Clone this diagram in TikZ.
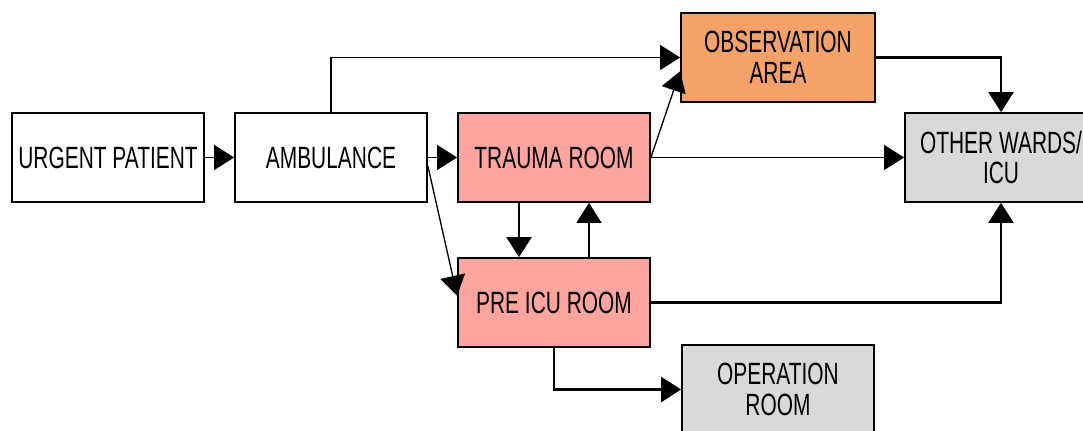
\documentclass[tikz,border=0pt]{standalone}
\usepackage{fontspec}
\setmainfont{Liberation Sans}[FakeStretch=0.68]
\usetikzlibrary{arrows.meta,positioning,calc}
\definecolor{roompink}{RGB}{252,164,158}
\definecolor{obsorange}{RGB}{244,161,106}
\definecolor{wardgray}{RGB}{217,217,217}

\begin{document}
\begin{tikzpicture}[
        font=\fontsize{17.5}{17.5}\selectfont,
        box/.style={rectangle, draw, line width=1pt, fill=white, minimum width=3.84cm, minimum height=1.78cm, inner sep=0pt, align=center},
        room/.style={box, fill=roompink},
        obsbox/.style={box, fill=obsorange, minimum width=3.88cm},
        ward/.style={box, fill=wardgray},
        flow/.style={-{Triangle[length=0.4cm,width=0.5cm]}, line width=0.75pt},
        heavy/.style={flow, line width=1.3pt}
    ]
        \fill[white] (0,0) rectangle (21.66,8.6);
        \clip (0,0) rectangle (21.66,8.6);

        \node[box] (urgent) at (2.16,5.45) {URGENT PATIENT};
        \node[box] (amb) at (6.62,5.45) {AMBULANCE};
        \node[room] (trauma) at (11.08,5.45) {TRAUMA ROOM};
        \node[room] (preicu) at (11.08,2.55) {PRE ICU ROOM};
        \node[obsbox] (obs) at (15.56,7.45) {OBSERVATION\\AREA};
        \node[ward] (other) at (20.02,5.45) {OTHER WARDS/\\ICU};
        \node[ward] (op) at (15.56,0.81) {OPERATION\\ROOM};

        \draw[flow] (urgent) -- (amb);
        \draw[flow] (amb) -- (trauma);
        \draw[flow] (amb.north) |- (obs.west);
        \draw[flow] (amb.-5) -- (preicu.176);
        \draw[flow] (trauma.east) -- (obs.188);
        \draw[flow] (trauma) -- (other);
        \draw[heavy] (obs.east) -| (other.north);
        \draw[heavy] ([xshift=-0.7cm]trauma.south) -- ([xshift=-0.7cm]preicu.north);
        \draw[flow] ([xshift=0.7cm]preicu.north) -- ([xshift=0.7cm]trauma.south);
        \draw[heavy] (preicu.east) -| (other.south);
        \draw[heavy] (preicu.south) |- (op.west);
    \end{tikzpicture}
\end{document}
